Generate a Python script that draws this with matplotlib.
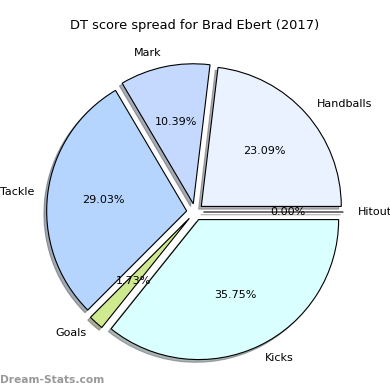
import matplotlib
matplotlib.use("Agg")
import matplotlib.pyplot as plt

labels = ["Hitout", "Handballs", "Mark", "Tackle", "Goals", "Kicks"]
values = [0.00, 23.09, 10.39, 29.03, 1.73, 35.75]
colors = ["#F0F0FF", "#EAF2FF", "#C5D9FF", "#B5D5FF", "#CFE98F", "#DAFFFF"]
explode = [0.06] * len(values)
title = "DT score spread for Brad Ebert (2017)"
watermark = "Dream-Stats.com"

fig = plt.figure(figsize=(3.9, 3.9), dpi=100)
ax = fig.add_axes([0, 0, 1, 1])
ax.pie(values, labels=labels, colors=colors, explode=explode,
       autopct="%1.2f%%", shadow={"ox": -0.014, "oy": -0.014, "shade": 0.6},
       startangle=0,
       wedgeprops=dict(edgecolor="black", linewidth=0.8),
       textprops=dict(fontsize=8))
R = 140.0
ax.set_xlim(-195 / R, 195 / R)
ax.set_ylim(-178 / R, 212 / R)
ax.set_aspect("equal")
ax.axis("off")

fig.text(0.5, 1 - 25 / 390, title, ha="center", va="center", fontsize=9.4)
fig.text(0.0, 1 - 380 / 390, watermark, ha="left", va="center",
         fontsize=7.7, color="#999999", fontweight="bold")

fig.savefig("out.png", dpi=100)
